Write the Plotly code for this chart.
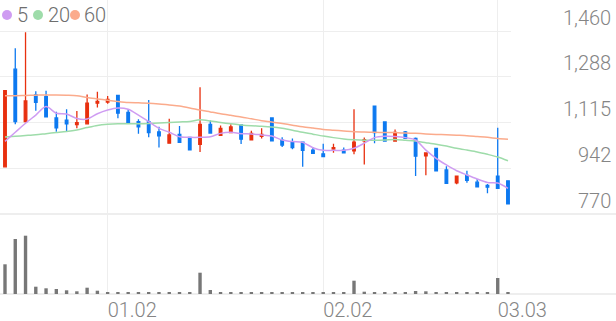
import plotly.graph_objects as go

# ---------------- data ----------------
idx = list(range(50))
tick_idx = [10, 31, 48]
tick_labels = ["01.02", "02.02", "03.03"]

opens = [948, 1316, 1118, 1219, 1212, 1132, 1124, 1107, 1110, 1188,
         1192, 1217, 1153, 1118, 1118, 1080, 1037, 1070, 1059, 1033,
         1108, 1067, 1077, 1106, 1050, 1063, 1132, 1048, 1039, 1041,
         1011, 997, 1015, 1011, 1008, 1046, 1177, 1117, 1045, 1080,
         1055, 989, 1017, 936, 887, 916, 890, 878, 913, 895]
highs = [1236, 1395, 1455, 1233, 1235, 1156, 1165, 1158, 1221, 1231,
         1215, 1219, 1166, 1127, 1200, 1099, 1129, 1102, 1061, 1248,
         1123, 1104, 1108, 1108, 1084, 1093, 1133, 1059, 1055, 1043,
         1023, 1035, 1035, 1021, 1165, 1058, 1178, 1118, 1089, 1083,
         1058, 1000, 1018, 950, 914, 933, 902, 883, 1095, 896]
lows = [947, 1108, 1115, 1159, 1134, 1080, 1080, 1093, 1108, 1172,
        1186, 1131, 1112, 1073, 1059, 1021, 1036, 1038, 1011, 1004,
        1074, 1066, 1076, 1034, 1049, 1055, 1045, 1023, 1014, 948,
        997, 986, 1001, 1000, 995, 957, 1037, 1044, 1044, 1054,
        913, 916, 932, 885, 882, 888, 871, 848, 866, 807]
closes = [1235, 1118, 1196, 1191, 1136, 1095, 1110, 1114, 1188, 1195,
          1202, 1150, 1114, 1099, 1077, 1065, 1068, 1040, 1012, 1108,
          1075, 1093, 1098, 1052, 1074, 1070, 1046, 1030, 1020, 1010,
          999, 986, 1020, 1001, 1041, 1050, 1077, 1045, 1078, 1055,
          988, 1000, 933, 886, 913, 897, 872, 871, 867, 808]

ma5 = [1044, 1078, 1112, 1143, 1175, 1150, 1147, 1130, 1128, 1148,
       1162, 1170, 1165, 1143, 1118, 1093, 1078, 1061, 1059, 1059,
       1061, 1074, 1078, 1073, 1072, 1068, 1064, 1049, 1043, 1040,
       1020, 1010, 1010, 1010, 1018, 1037, 1058, 1063, 1062, 1058,
       1049, 1011, 980, 955, 933, 917, 902, 889, 887, 867]
ma20 = [1060, 1063, 1066, 1069, 1073, 1077, 1081, 1087, 1096, 1104,
        1108, 1110, 1110, 1110, 1111, 1113, 1115, 1117, 1119, 1125,
        1121, 1115, 1110, 1106, 1103, 1101, 1098, 1093, 1086, 1078,
        1071, 1064, 1058, 1053, 1050, 1048, 1048, 1049, 1051, 1048,
        1045, 1039, 1033, 1026, 1018, 1011, 1004, 995, 985, 971]
ma60 = [1216, 1216, 1217, 1218, 1219, 1219, 1218, 1216, 1209, 1204,
        1199, 1194, 1190, 1189, 1188, 1185, 1181, 1177, 1170, 1162,
        1155, 1148, 1142, 1136, 1129, 1122, 1117, 1111, 1105, 1099,
        1094, 1089, 1086, 1083, 1080, 1079, 1078, 1077, 1077, 1075,
        1074, 1072, 1070, 1069, 1067, 1065, 1062, 1059, 1055, 1052]

volumes = [29700, 55000, 58300, 7300, 5700, 5000, 3700, 2700, 6300, 3300,
           2000, 2000, 1900, 2000, 1800, 2000, 1900, 2000, 1800, 21300,
           4000, 1700, 1700, 1800, 1700, 1700, 1600, 1700, 1700, 1700,
           1700, 1600, 1700, 1700, 13300, 2300, 1700, 1700, 1700, 1700,
           3000, 2700, 1700, 1700, 1600, 1700, 1700, 1600, 16000, 1300]

price_ticks = [770, 942.5, 1115, 1287.5, 1460]
price_labels = ["770", "942", "1,115", "1,288", "1,460"]

ma_names = ["5", "20", "60"]
ma_colors = ["#cf9cf2", "#9edcaa", "#fbab8c"]

UP = "#e8300f"
DOWN = "#0d79f0"
GRID = "#eeeeee"
TXT = "#858585"
FONT = "Roboto"

# ---------------- geometry ----------------
W, H = 616, 321
PW, PH = 511, 294          # plot area (left/top aligned)
VOL_H = 80                 # volume panel height in px

def pxx(x):
    return x / PW

def pxy(y):
    return (PH - y) / PH

fig = go.Figure()

fig.add_trace(go.Candlestick(
    x=idx, open=opens, high=highs, low=lows, close=closes,
    increasing=dict(line=dict(color=UP, width=1.3), fillcolor=UP),
    decreasing=dict(line=dict(color=DOWN, width=1.3), fillcolor=DOWN),
    whiskerwidth=0, xaxis="x", yaxis="y", hoverinfo="skip", showlegend=False))

for vals, col in zip([ma60, ma20, ma5], [ma_colors[2], ma_colors[1], ma_colors[0]]):
    fig.add_trace(go.Scatter(x=idx, y=vals, mode="lines",
                             line=dict(color=col, width=1.5, shape="spline", smoothing=0.8),
                             xaxis="x", yaxis="y", hoverinfo="skip", showlegend=False))

fig.add_trace(go.Bar(x=idx, y=volumes, marker=dict(color="#777777", line=dict(width=0)),
                     width=0.33, xaxis="x2", yaxis="y2", hoverinfo="skip", showlegend=False))

xr = [-5 / 10.265, (PW - 5) / 10.265]
vol_dom = VOL_H / PH

fig.update_layout(
    width=W, height=H,
    margin=dict(l=0, r=W - PW, t=0, b=H - PH, pad=0),
    paper_bgcolor="white", plot_bgcolor="white",
    boxgap=0.64,
    font=dict(family=FONT, size=20, color=TXT, weight=300),
    xaxis=dict(domain=[0, 1], range=xr, anchor="y", showticklabels=False,
               tickvals=tick_idx, showgrid=True, gridcolor=GRID, gridwidth=1,
               zeroline=False, showline=False, rangeslider=dict(visible=False), fixedrange=True),
    xaxis2=dict(domain=[0, 1], range=xr, anchor="y2", matches="x",
                tickvals=tick_idx, ticktext=tick_labels, ticks="",
                ticklabelposition="outside right", ticklabelstandoff=2,
                tickfont=dict(family=FONT, size=20, color=TXT, weight=300),
                showgrid=True, gridcolor=GRID, gridwidth=1,
                zeroline=False, showline=False),
    yaxis=dict(domain=[vol_dom, 1], range=[770, 770 + PH * (1 - vol_dom) * 172.5 / 45.75],
               tickvals=price_ticks, showticklabels=False, showgrid=True,
               gridcolor=GRID, gridwidth=1, zeroline=False, showline=False),
    yaxis2=dict(domain=[0, vol_dom], range=[0, 80000], showticklabels=False,
                showgrid=False, zeroline=False, showline=False),
)

# full-width separator lines
for yy in [214, 294]:
    fig.add_shape(type="line", xref="paper", yref="paper",
                  x0=0, x1=W / PW, y0=pxy(yy), y1=pxy(yy),
                  line=dict(color="#e9e9e9", width=1.5), layer="below")

# price labels (above their gridlines, right aligned)
for v, t in zip(price_ticks, price_labels):
    fig.add_annotation(x=613 / PW, xref="paper", y=v, yref="y", text=t,
                       xanchor="right", yanchor="middle", yshift=13.5, showarrow=False,
                       font=dict(family=FONT, size=20, color=TXT, weight=300))

# legend
dot_x = [7, 38, 75]
txt_x = [15, 46, 82]
for name, col, dx, tx in zip(ma_names, ma_colors, dot_x, txt_x):
    fig.add_shape(type="circle", xref="paper", yref="paper",
                  xsizemode="pixel", ysizemode="pixel",
                  xanchor=pxx(dx), yanchor=pxy(15),
                  x0=-5, x1=5, y0=-5, y1=5,
                  fillcolor=col, line=dict(width=0))
    fig.add_annotation(x=pxx(tx), xref="paper", y=pxy(15), yref="paper", text=name,
                       xanchor="left", yanchor="middle", showarrow=False,
                       font=dict(family=FONT, size=20, color="#6e6e6e", weight=300))

fig.write_html("out.html")
